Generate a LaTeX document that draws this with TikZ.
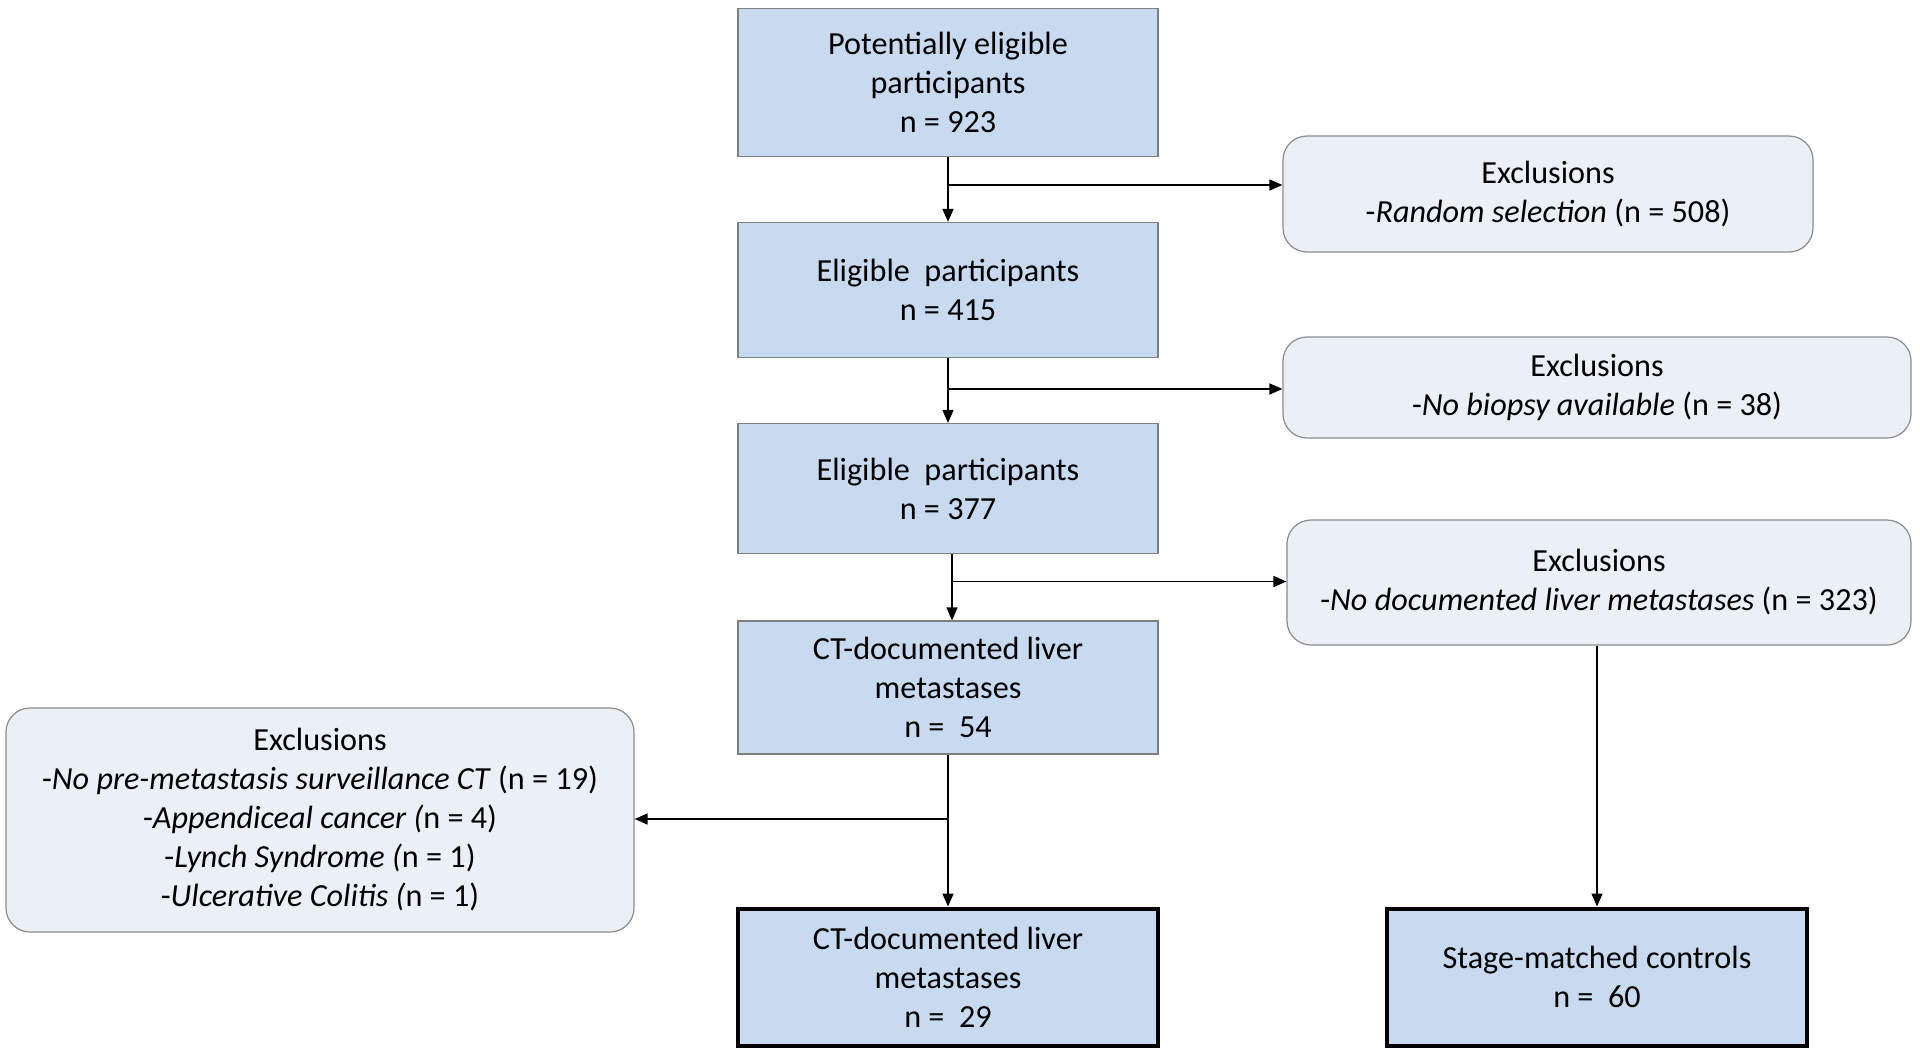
\documentclass[tikz,border=0pt]{standalone}
\usepackage{fontspec}
\setmainfont{Carlito}
\usetikzlibrary{arrows.meta,calc}
\definecolor{mainfill}{HTML}{C8DAF0}
\definecolor{exfill}{HTML}{EBF0F7}
\definecolor{mainborder}{HTML}{7F7F7F}
\definecolor{exborder}{HTML}{8C8C8C}
\begin{document}
\begin{tikzpicture}[x=0.5pt,y=-0.5pt,
  every node/.style={font=\fontsize{16.1}{19.5}\selectfont, align=center, inner sep=0pt},
  mainbox/.style={draw=mainborder, line width=0.6pt, fill=mainfill, minimum width=210pt},
  finalbox/.style={draw=black, line width=2pt, fill=mainfill, minimum width=210pt},
  exbox/.style={draw=exborder, line width=0.6pt, fill=exfill, rounded corners=12pt},
  conn/.style={line width=0.8pt, -{Triangle[length=6.5pt,width=5.5pt]}}]
\useasboundingbox (0,0) rectangle (1920,1055);
\fill[white] (0,0) rectangle (1920,1055);

\node[mainbox, minimum height=74pt] (b1) at (948,82.5) {Potentially eligible\\participants\\n = 923};
\node[mainbox, minimum height=67.5pt] (b2) at (948,290) {Eligible\ \ participants\\n = 415};
\node[mainbox, minimum height=65pt] (b3) at (948,488.5) {Eligible\ \ participants\\n = 377};
\node[mainbox, minimum height=66.5pt] (b4) at (948,687.5) {CT-documented liver\\metastases\\n =\ \ 54};
\node[finalbox, minimum height=68.5pt] (b5) at (948,977) {CT-documented liver\\metastases\\n =\ \ 29};
\node[finalbox, minimum height=68.5pt] (b6) at (1597,977) {Stage-matched controls\\n =\ \ 60};

\node[exbox, minimum width=265pt, minimum height=58pt] (e1) at (1548,194) {Exclusions\\-\textit{Random selection} (n = 508)};
\node[exbox, minimum width=314pt, minimum height=50.5pt] (e2) at (1597,387.5) {Exclusions\\-\textit{No biopsy available} (n = 38)};
\node[exbox, minimum width=312pt, minimum height=62.5pt] (e3) at (1599,582.5) {Exclusions\\-\textit{No documented liver metastases} (n = 323)};
\node[exbox, minimum width=314pt, minimum height=112pt] (e4) at (320,820) {Exclusions\\-\textit{No pre-metastasis surveillance CT} (n = 19)\\-\textit{Appendiceal cancer (}n = 4)\\-\textit{Lynch Syndrome (}n = 1)\\-\textit{Ulcerative Colitis (}n = 1)};

\coordinate (j1) at (948,185);
\coordinate (j2) at (948,389);
\coordinate (j3) at (952,581.5);
\coordinate (j4) at (948,819);

\draw[conn] (b1.south) -- (b2.north);
\draw[conn] (j1) -- (j1 -| e1.west);
\draw[conn] (b2.south) -- (b3.north);
\draw[conn] (j2) -- (j2 -| e2.west);
\draw[conn] (b3.south -| j3) -- (b4.north -| j3);
\draw[conn] (j3) -- (j3 -| e3.west);
\draw[conn] (b4.south) -- (b5.north);
\draw[conn] (j4) -- (j4 -| e4.east);
\draw[conn] (e3.south -| b6.north) -- (b6.north);
\end{tikzpicture}
\end{document}
